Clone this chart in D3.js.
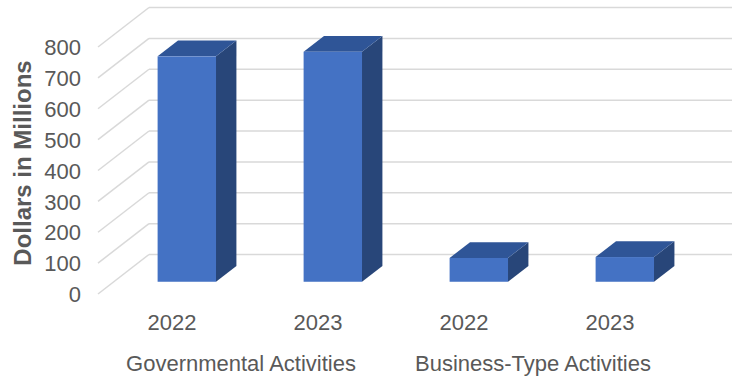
<!DOCTYPE html>
<html>
<head>
<meta charset="utf-8">
<script src="https://cdn.jsdelivr.net/npm/d3@7"></script>
<style>
  html, body { margin: 0; padding: 0; background: #fff; }
  svg { display: block; }
  text { font-family: "Liberation Sans", Arial, sans-serif; fill: #595959; }
</style>
</head>
<body>
<svg id="chart" width="732" height="381"></svg>
<script>
// Capital assets, net of depreciation (dollars in millions)
const groups = ["Governmental Activities", "Business-Type Activities"];
const years = ["2022", "2023", "2022", "2023"];
const barGroup = [0, 0, 1, 1];
const values = [730, 745, 77, 80];
const yTicks = [0, 100, 200, 300, 400, 500, 600, 700, 800];
const yTitle = "Dollars in Millions";

const svg = d3.select("#chart");
const W = 732, H = 381;

// Oblique 3D frame: front plane, plus a depth vector toward the back wall
const front = { left: 98, right: 682, bottom: 294, top: 47 };
const depth = { dx: 51, dy: -39.5 };
const barDepth = { start: 0.31, end: 0.71 };

const y = d3.scaleLinear().domain([0, 800]).range([front.bottom, front.top]);
const x = d3.scaleBand()
  .domain(d3.range(values.length))
  .range([front.left, front.right])
  .paddingInner(0.6)
  .paddingOuter(0.3);

// project a front-plane point (px, py) back by depth fraction f
const proj = (px, py, f) => [px + depth.dx * f, py + depth.dy * f];

// gridlines: diagonal on the left side wall, horizontal on the back wall
const grid = svg.append("g").attr("stroke", "#d9d9d9").attr("stroke-width", 1.5).attr("fill", "none");
yTicks.forEach(t => {
  const p0 = [front.left, y(t)];
  const p1 = proj(front.left, y(t), 1);
  grid.append("line").attr("x1", p0[0]).attr("y1", p0[1]).attr("x2", p1[0]).attr("y2", p1[1]);
  grid.append("line").attr("x1", p1[0]).attr("y1", p1[1]).attr("x2", W).attr("y2", p1[1]);
});

// y axis labels on the front plane
const yAxis = d3.axisLeft(y).tickValues(yTicks).tickSize(0).tickPadding(0).tickFormat(d3.format("d"));
const axG = svg.append("g").attr("transform", `translate(${81},0)`).call(yAxis);
axG.select(".domain").remove();
axG.selectAll("text")
  .attr("font-size", 22)
  .attr("font-family", "Liberation Sans, Arial, sans-serif")
  .attr("fill", "#595959")
  .attr("dy", "0.35em");

// 3D columns
const colFront = "#4472c4", colTop = "#2f5597", colSide = "#284679";
const bars = svg.append("g");
values.forEach((v, i) => {
  const x0 = x(i), x1 = x(i) + x.bandwidth();
  const yt = y(v), yb = y(0);
  const f0 = barDepth.start, f1 = barDepth.end;
  const ftl = proj(x0, yt, f0), ftr = proj(x1, yt, f0), fbr = proj(x1, yb, f0), fbl = proj(x0, yb, f0);
  const btl = proj(x0, yt, f1), btr = proj(x1, yt, f1), bbr = proj(x1, yb, f1);
  const g = bars.append("g");
  g.append("polygon").attr("points", [ftr, btr, bbr, fbr].map(p => p.join(",")).join(" ")).attr("fill", colSide);
  g.append("polygon").attr("points", [ftl, ftr, btr, btl].map(p => p.join(",")).join(" ")).attr("fill", colTop);
  g.append("rect").attr("x", ftl[0]).attr("y", ftl[1]).attr("width", x1 - x0).attr("height", fbl[1] - ftl[1]).attr("fill", colFront);
});

// category labels (years) on the front edge of the floor
svg.append("g").selectAll("text").data(years).join("text")
  .attr("x", (d, i) => x(i) + x.bandwidth() / 2 + 1)
  .attr("y", 322)
  .attr("dy", "0.35em")
  .attr("text-anchor", "middle")
  .attr("font-size", 22)
  .text(d => d);

// group labels
svg.append("g").selectAll("text").data(groups).join("text")
  .attr("x", (d, gi) => {
    const idx = d3.range(values.length).filter(i => barGroup[i] === gi);
    return d3.mean(idx, i => x(i) + x.bandwidth() / 2) - 3;
  })
  .attr("y", 363)
  .attr("dy", "0.35em")
  .attr("text-anchor", "middle")
  .attr("font-size", 22)
  .text(d => d);

// y axis title
svg.append("text")
  .attr("transform", "translate(23,163) rotate(-90)")
  .attr("text-anchor", "middle")
  .attr("dy", "0.35em")
  .attr("font-size", 24)
  .attr("font-weight", "bold")
  .text(yTitle);
</script>
</body>
</html>
